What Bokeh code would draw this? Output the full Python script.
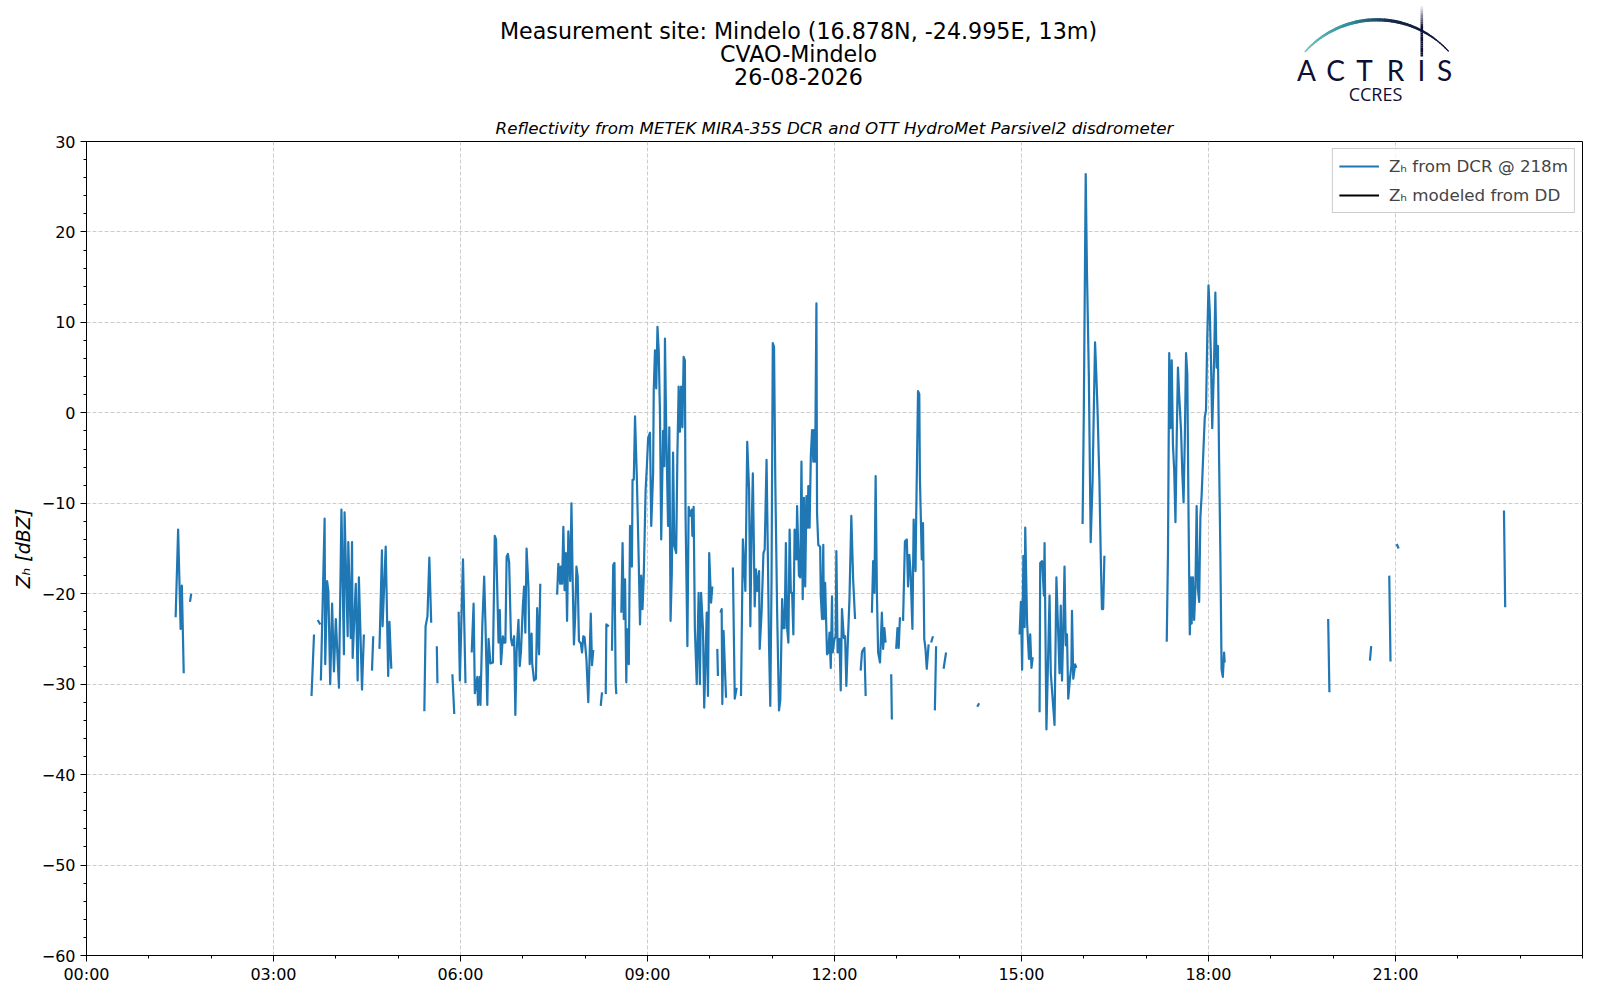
import numpy as np
from bokeh.plotting import figure
from bokeh.models import Range1d, FixedTicker, Legend, LegendItem
from bokeh.layouts import column
from bokeh.embed import file_html
from bokeh.resources import INLINE
from bokeh.core.properties import value

nan = float("nan")

# ---------------- data (hours of day, reflectivity in dBZ); nan = gap ----------------
time_h = [
    1.43, 1.47, 1.51, 1.53, 1.56, nan,
    1.66, 1.68, nan,
    3.61, 3.65, nan,
    3.71, 3.75, nan,
    3.76, 3.82, 3.83, 3.86, 3.88, 3.91, 3.94, 3.97, 4.00, 4.05, 4.09, 4.13, 4.14, 4.19, 4.20, 4.24,
    4.26, 4.27, 4.32, 4.35, 4.37, 4.42, 4.45, nan,
    4.58, 4.60, nan,
    4.70, 4.74, 4.75, 4.80, 4.84, 4.86, 4.89, nan,
    5.42, 5.44, 5.47, 5.50, 5.53, nan,
    5.62, 5.63, nan,
    5.87, 5.90, nan,
    5.97, 5.99, 6.04, 6.08, nan,
    6.18, 6.21, 6.23, 6.27, 6.28, 6.31, 6.32, 6.35, 6.38, 6.40,
    6.43, 6.45, 6.48, 6.52, 6.55, 6.57, 6.58, 6.61, 6.63, 6.65,
    6.68, 6.70, 6.72, 6.74, 6.76, 6.78, 6.81, 6.83, 6.86, 6.88,
    6.90, 6.93, 6.95, 6.97, 7.00, 7.02, 7.04, 7.06, 7.09, 7.11,
    7.14, 7.15, 7.18, 7.21, 7.23, 7.26, 7.28, nan,
    7.55, 7.57, 7.60, 7.61, 7.63, 7.65, 7.67, 7.69, 7.71, 7.73,
    7.76, 7.78, 7.80, 7.82, 7.84, 7.86, 7.88, 7.90, 7.93, 7.95,
    7.97, 7.99, 8.02, 8.05, 8.07, 8.09, 8.11, 8.13, nan,
    8.25, 8.27, nan,
    8.33, 8.34, 8.38, nan,
    8.43, 8.45, 8.47, 8.49, 8.50, nan,
    8.58, 8.60, 8.62, 8.64, 8.66, 8.67, 8.70, 8.72, 8.75, 8.76,
    8.78, 8.80, 8.83, 8.86, 8.88, 8.90, 8.92, 8.94, 8.97, 8.99,
    9.01, 9.04, 9.06, 9.09, 9.10, 9.12, 9.14, 9.16, 9.18, 9.20,
    9.22, 9.25, 9.27, 9.28, 9.30, 9.33, 9.35, 9.37, 9.39, 9.41,
    9.43, 9.46, 9.48, 9.50, 9.52, 9.54, 9.56, 9.58, 9.60, 9.61,
    9.64, 9.66, 9.68, 9.71, 9.72, 9.74, 9.76, 9.79, 9.82, 9.84,
    9.86, 9.89, 9.91, 9.95, 9.97, 9.99, 10.02, 10.04, nan,
    10.12, 10.13, nan,
    10.17, 10.19, 10.20, 10.22, 10.26, nan,
    10.37, 10.40, 10.43, nan,
    10.50, 10.53, 10.57, 10.60, 10.63, 10.65, 10.67, 10.69, 10.72, 10.74,
    10.76, 10.79, 10.80, 10.83, 10.86, 10.88, 10.91, 10.93, 10.95, 10.97,
    10.99, 11.01, 11.03, 11.05, 11.08, 11.11, 11.13, 11.16, 11.18, 11.20,
    11.22, 11.24, 11.26, 11.28, 11.30, 11.32, 11.34, 11.36, 11.39, 11.40,
    11.43, 11.45, 11.47, 11.49, 11.51, 11.53, 11.55, 11.57, 11.58, 11.60,
    11.62, 11.64, 11.66, 11.67, 11.69, 11.71, 11.72, 11.74, 11.77, 11.78,
    11.80, 11.82, 11.83, 11.85, 11.88, 11.90, 11.92, 11.94, 11.96, 11.97,
    12.00, 12.02, 12.03, 12.05, 12.08, 12.10, 12.12, 12.15, 12.17, 12.19,
    12.21, 12.24, 12.27, 12.30, 12.33, nan,
    12.42, 12.44, 12.45, 12.48, 12.50, nan,
    12.60, 12.62, 12.64, 12.66, 12.68, 12.70, 12.73, 12.76, 12.78, 12.80, 12.82, nan,
    12.91, 12.92, nan,
    12.99, 13.01, 13.03, 13.05, nan,
    13.10, 13.13, 13.16, 13.18, 13.20, 13.22, 13.25, 13.27, 13.30, 13.31,
    13.34, 13.36, 13.37, 13.40, 13.42, 13.44, 13.46, 13.48, 13.51, nan,
    13.55, 13.58, nan,
    13.61, 13.63, nan,
    13.75, 13.79, nan,
    14.29, 14.32, nan,
    14.97, 14.99, 15.01, 15.03, 15.05, 15.06, 15.09, 15.12, 15.14, 15.16, 15.18, nan,
    15.29, 15.30, 15.33, 15.36, 15.37, 15.40, 15.45, 15.47, 15.53, 15.56,
    15.58, 15.61, 15.63, 15.65, 15.67, 15.69, 15.71, 15.73, 15.75, 15.78,
    15.80, 15.81, 15.83, 15.85, 15.86, 15.88, nan,
    15.98, 16.00, 16.03, 16.05, 16.08, 16.11, 16.14, 16.16, 16.18, 16.20,
    16.22, 16.25, 16.27, 16.29, 16.31, 16.33, nan,
    17.33, 17.35, 17.37, 17.39, 17.41, 17.43, 17.45, 17.47, 17.49, 17.51,
    17.53, 17.56, 17.58, 17.60, 17.62, 17.64, 17.66, 17.68, 17.70, 17.72,
    17.73, 17.75, 17.77, 17.79, 17.81, 17.83, 17.85, 17.87, 17.89, 17.91,
    17.94, 17.96, 17.98, 18.00, 18.02, 18.04, 18.06, 18.09, 18.11, 18.13,
    18.15, 18.17, 18.19, 18.21, 18.23, 18.25, 18.26, nan,
    19.92, 19.94, nan,
    20.59, 20.61, nan,
    20.90, 20.92, nan,
    21.02, 21.05, nan,
    22.74, 22.76,
]

zh_dcr = [
    -22.6, -12.9, -23.9, -19.1, -28.8, nan,
    -20.9, -20.0, nan,
    -31.3, -24.5, nan,
    -22.9, -23.4, nan,
    -29.6, -11.7, -27.8, -18.6, -19.7, -30.0, -21.1, -28.6, -22.8, -30.4, -10.7, -26.7, -11.0, -24.7, -14.3, -24.9,
    -14.3, -27.1, -18.9, -29.6, -18.2, -30.6, -24.5, nan,
    -28.5, -24.7, nan,
    -26.1, -15.2, -23.6, -14.8, -29.1, -23.1, -28.3, nan,
    -33.0, -23.6, -22.5, -16.0, -23.2, nan,
    -25.8, -29.9, nan,
    -28.9, -33.3, nan,
    -22.0, -29.6, -16.2, -29.9, nan,
    -26.5, -21.1, -31.0, -29.2, -32.3, -29.2, -32.3, -23.5, -18.1, -23.2,
    -32.3, -25.0, -27.7, -27.6, -13.6, -14.0, -16.8, -25.4, -21.8, -27.8,
    -24.7, -25.4, -25.4, -15.9, -15.6, -16.5, -25.0, -25.7, -24.7, -33.4,
    -26.4, -22.9, -28.0, -26.4, -21.4, -19.2, -24.3, -15.0, -19.2, -27.8,
    -24.4, -27.7, -29.6, -29.4, -21.6, -26.7, -18.9, nan,
    -20.1, -16.7, -18.9, -17.0, -18.9, -12.6, -19.6, -15.5, -23.0, -13.1,
    -18.6, -10.0, -18.7, -25.6, -22.5, -17.0, -18.1, -25.2, -25.5, -26.5,
    -24.7, -24.8, -27.2, -32.0, -27.3, -22.2, -27.9, -26.2, nan,
    -32.4, -30.9, nan,
    -31.1, -23.4, -23.6, nan,
    -26.3, -16.8, -16.6, -30.0, -31.1, nan,
    -22.1, -14.4, -22.8, -18.4, -29.8, -23.9, -27.8, -12.5, -17.0, -7.4,
    -7.4, -0.4, -7.4, -16.6, -23.4, -18.0, -21.7, -18.0, -8.5, -5.9,
    -2.8, -2.2, -12.5, -6.7, 2.5, 6.9, 2.7, 9.5, 6.9, -0.1,
    -14.0, -2.0, -5.9, 8.2, -1.6, -12.5, -1.6, -23.0, -17.7, -4.4,
    -14.7, -15.5, -4.4, 2.9, -2.1, 2.9, -1.6, 6.2, 5.8, -11.1,
    -25.8, -10.4, -11.4, -10.7, -13.6, -10.4, -23.9, -30.0, -19.9, -30.0,
    -19.9, -23.9, -32.6, -22.1, -31.3, -15.5, -21.0, -19.2, nan,
    -26.1, -29.1, nan,
    -22.1, -21.7, -32.2, -24.1, -31.5, nan,
    -17.1, -31.6, -30.4, nan,
    -31.3, -14.0, -19.7, -3.2, -8.5, -23.6, -12.9, -6.7, -21.4, -17.3,
    -19.7, -17.5, -26.1, -22.1, -15.5, -15.1, -5.2, -15.3, -25.8, -32.4,
    -18.4, 7.7, 7.3, -7.4, -22.1, -32.9, -31.8, -20.6, -23.8, -23.8,
    -14.4, -23.8, -25.4, -12.9, -19.9, -19.9, -24.5, -12.9, -16.2, -10.3,
    -18.0, -18.2, -5.4, -20.6, -9.4, -19.2, -9.2, -12.7, -8.1, -12.7,
    -4.8, -1.9, -5.4, -1.9, -5.4, 12.1, -11.1, -14.6, -14.8, -20.3,
    -22.8, -14.6, -22.8, -18.8, -26.7, -26.5, -24.3, -28.2, -20.3, -26.5,
    -25.0, -24.7, -15.3, -26.5, -25.0, -30.7, -21.7, -24.9, -24.7, -30.2,
    -26.1, -20.6, -11.4, -18.6, -22.8, nan,
    -28.5, -26.5, -26.3, -26.0, -31.3, nan,
    -22.1, -16.4, -19.9, -7.0, -19.9, -26.5, -27.6, -22.1, -26.1, -23.8, -25.4, nan,
    -28.9, -33.9, nan,
    -26.1, -23.8, -26.0, -22.6, nan,
    -23.0, -14.2, -14.0, -19.2, -15.7, -17.5, -23.9, -11.8, -17.5, -11.8,
    2.4, 2.1, -7.1, -16.2, -12.2, -25.0, -26.1, -28.3, -25.6, nan,
    -25.4, -24.7, nan,
    -32.9, -25.8, nan,
    -28.3, -26.5, nan,
    -32.5, -32.1, nan,
    -24.5, -20.9, -28.4, -15.8, -23.7, -12.7, -23.3, -27.2, -24.5, -28.2, -27.0, nan,
    -33.1, -16.6, -16.4, -20.2, -14.4, -35.0, -20.2, -28.8, -34.5, -18.2,
    -22.5, -28.8, -21.3, -29.6, -24.1, -17.0, -25.7, -24.5, -31.6, -29.2,
    -28.0, -21.9, -29.4, -28.4, -27.8, -28.2, nan,
    -12.3, 0.3, 26.4, 15.7, 4.3, -14.3, -7.6, 0.3, 7.8, 4.3,
    0.3, -7.6, -15.4, -21.7, -21.7, -15.8, nan,
    -25.3, -15.4, 6.6, -1.7, 5.8, -3.6, -6.4, -12.1, -2.8, 5.0,
    1.9, -2.0, -6.7, -9.9, -2.8, 6.6, 4.3, -11.5, -24.5, -18.2,
    -23.3, -18.2, -22.9, -19.4, -10.3, -19.4, -20.9, -11.5, -9.1, -5.6,
    -0.5, 0.3, 8.2, 14.1, 11.3, 5.8, -1.7, 5.8, 13.3, 5.0,
    7.4, -5.2, -15.4, -28.4, -29.2, -26.5, -27.6, nan,
    -22.8, -30.9, nan,
    -27.4, -25.8, nan,
    -18.0, -27.5, nan,
    -14.5, -15.0, nan,
    -10.8, -21.5,
]

# modelled series from the disdrometer: no valid samples on this day
zh_dd_time = [nan]
zh_dd = [nan]

title_lines = ["Measurement site: Mindelo (16.878N, -24.995E, 13m)", "CVAO-Mindelo", "26-08-2026"]
subtitle = "Reflectivity from METEK MIRA-35S DCR and OTT HydroMet Parsivel2 disdrometer"
legend_labels = ["Z\u2095 from DCR @ 218m", "Z\u2095 modeled from DD"]
y_label = "Z\u2095 [dBZ]"
x_ticks = [0, 3, 6, 9, 12, 15, 18, 21]
x_tick_labels = ["00:00", "03:00", "06:00", "09:00", "12:00", "15:00", "18:00", "21:00"]
y_ticks = [-60, -50, -40, -30, -20, -10, 0, 10, 20, 30]
logo_letters = ["A", "C", "T", "R", "I", "S"]

FONT = "DejaVu Sans"
W = 1584
TOTAL_H = 986
MB_TOP = 30
FRAME_TOP = 141
HEAD_H = FRAME_TOP - MB_TOP
MAIN_H = TOTAL_H - HEAD_H
BL, BR = 86, 2
NAVY = "#0d0f35"

# ---------------- header: titles + logo (coordinates in picture pixels) ----------------
head = figure(width=W, height=HEAD_H, x_range=Range1d(88, 1584), y_range=Range1d(0, HEAD_H),
              toolbar_location=None, output_backend="svg",
              min_border_left=BL, min_border_right=BR, min_border_top=0, min_border_bottom=0,
              x_axis_type=None, y_axis_type=None, outline_line_color=None)
head.grid.visible = False


def hy(yp):
    return HEAD_H - yp


head.text(x=[800] * 3, y=[hy(30), hy(53), hy(76)], text=title_lines,
          text_font=value(FONT), text_font_size="22.2px", text_align="center",
          text_baseline="alphabetic", text_color="black")

# logo arc with colour gradient
t = np.linspace(-0.833, 0.826, 70)
cx, cy, R = 1378.5, 116.3, 97.0
ax_ = cx + R * np.sin(t)
ay_ = cy - R * np.cos(t)
stops = np.array([0.0, 0.35, 0.6, 1.0])
cols = np.array([[118, 199, 192], [47, 140, 155], [22, 40, 75], [13, 15, 53]])
xs, ys, cl, lw = [], [], [], []
n = len(t) - 1
for i in range(n):
    f = (i + 0.5) / n
    rgb = [int(np.interp(f, stops, cols[:, k])) for k in range(3)]
    xs.append([ax_[i], ax_[i + 1]])
    ys.append([hy(ay_[i]), hy(ay_[i + 1])])
    cl.append("#%02x%02x%02x" % tuple(rgb))
    lw.append(1.3 + 1.9 * np.sin(np.pi * min(f * 1.1, 1.0)) ** 0.7)
head.multi_line(xs=xs, ys=ys, line_color=cl, line_width=lw, line_cap="round")

# vertical stroke
vy = np.linspace(3.5, 56, 25)
vxs, vys, vcl = [], [], []
for i in range(len(vy) - 1):
    f = min(1.0, (vy[i] - 3.5) / 22.0)
    rgb = [int(255 + (c - 255) * f) for c in (13, 15, 53)]
    vxs.append([1423.3, 1423.3])
    vys.append([hy(vy[i]), hy(vy[i + 1])])
    vcl.append("#%02x%02x%02x" % tuple(rgb))
head.multi_line(xs=vxs, ys=vys, line_color=vcl, line_width=2.6)

head.text(x=[1308, 1337, 1366, 1397, 1423, 1446], y=[hy(69)] * 6,
          text=logo_letters, text_font=value("Lato"), text_font_size="28px",
          text_align="center", text_baseline="alphabetic", text_color=NAVY)
head.text(x=[1377], y=[hy(93)], text=["CCRES"], text_font=value("Open Sans"),
          text_font_size="18px", text_align="center", text_baseline="alphabetic",
          text_color=NAVY)

# ---------------- main plot ----------------
p = figure(width=W, height=MAIN_H, x_range=Range1d(0, 24), y_range=Range1d(-60, 30),
           toolbar_location=None, output_backend="svg",
           min_border_left=BL, min_border_right=BR, min_border_top=MB_TOP, min_border_bottom=28)

p.title.text = subtitle
p.title.align = "center"
p.title.text_font = FONT
p.title.text_font_size = "16.7px"
p.title.text_font_style = "italic"
p.title.text_color = "black"
p.title.standoff = 8

r_dcr = p.line(time_h, zh_dcr, line_color="#1f77b4", line_width=2.2, line_join="round")
r_dd = p.line(zh_dd_time, zh_dd, line_color="black", line_width=2.2)

p.xaxis.ticker = FixedTicker(ticks=x_ticks, minor_ticks=list(range(0, 25)))
p.xaxis.major_label_overrides = {t_: l_ for t_, l_ in zip(x_ticks, x_tick_labels)}
p.yaxis.ticker = FixedTicker(ticks=y_ticks, minor_ticks=list(range(-60, 31, 2)))
p.yaxis.major_label_overrides = {v: str(v).replace("-", "\u2212") for v in y_ticks}

for ax in p.axis:
    ax.major_label_text_font = FONT
    ax.major_label_text_font_size = "16px"
    ax.major_label_text_color = "black"
    ax.axis_line_color = "black"
    ax.major_tick_line_color = "black"
    ax.minor_tick_line_color = "black"
    ax.major_tick_out = 6
    ax.major_tick_in = 0
    ax.minor_tick_out = 3
    ax.minor_tick_in = 0
p.yaxis.major_label_standoff = 5
p.xaxis.major_label_standoff = 3

p.yaxis.axis_label = y_label
p.yaxis.axis_label_text_font = FONT
p.yaxis.axis_label_text_font_size = "19px"
p.yaxis.axis_label_text_font_style = "italic"
p.yaxis.axis_label_text_color = "black"
p.yaxis.axis_label_standoff = 5

p.grid.grid_line_color = "#cccccc"
p.grid.grid_line_dash = "4 2"
p.grid.grid_line_width = 1
p.outline_line_color = "black"
p.outline_line_alpha = 1
p.outline_line_width = 1

legend = Legend(items=[LegendItem(label=legend_labels[0], renderers=[r_dcr]),
                       LegendItem(label=legend_labels[1], renderers=[r_dd])],
                location="top_right")
legend.label_text_font = FONT
legend.label_text_font_size = "16.7px"
legend.glyph_width = 40
legend.glyph_height = 22
legend.label_standoff = 10
legend.spacing = 7
legend.padding = 6
legend.margin = 7
legend.border_line_color = "#cccccc"
legend.border_line_alpha = 1
legend.background_fill_alpha = 0.8
p.add_layout(legend)

layout = column(head, p, spacing=0)
open("out.html", "w").write(file_html(layout, INLINE))
